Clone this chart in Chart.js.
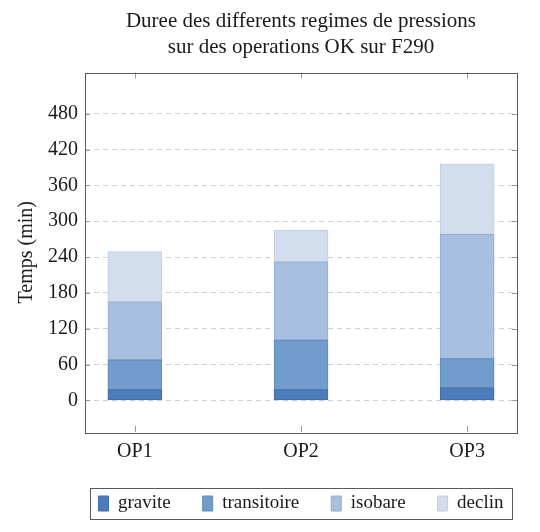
<!DOCTYPE html>
<html>
<head>
<meta charset="utf-8">
<script src="https://cdn.jsdelivr.net/npm/chart.js@4.4.1/dist/chart.umd.min.js"></script>
<style>
  html, body { margin: 0; padding: 0; background: #fff; }
  #wrap { width: 540px; height: 532px; }
</style>
</head>
<body>
<div id="wrap"><canvas id="barChart"></canvas></div>
<script>
// data
const categories = ['OP1', 'OP2', 'OP3'];
const gravite = [18, 18, 21];
const transitoire = [50, 83, 49];
const isobare = [97, 131, 208];
const declin = [84, 53, 118];
const yTicks = [0, 60, 120, 180, 240, 300, 360, 420, 480];

const toPoints = (values) => values.map((v, i) => ({ x: i + 1, y: v }));

Chart.defaults.font.family = "'Liberation Serif', 'Times New Roman', serif";
Chart.defaults.color = '#1a1a1a';

// frame round the plot area plus small inner tick marks (pgfplots style)
const framePlugin = {
  id: 'frame',
  afterLayout(chart) {
    // center the legend under the plot area, not the whole canvas
    const lg = chart.legend, a = chart.chartArea;
    if (!lg) return;
    const shift = (a.left + a.right) / 2 - (lg.left + lg.right) / 2;
    lg.left += shift;
    lg.right += shift;
  },
  afterDatasetsDraw(chart) {
    const { ctx, chartArea: a, scales } = chart;
    ctx.save();
    ctx.strokeStyle = '#9a9a9a';
    ctx.lineWidth = 1;
    ctx.beginPath();
    yTicks.forEach(v => {
      const y = Math.round(scales.y.getPixelForValue(v)) + 0.5;
      ctx.moveTo(a.left, y); ctx.lineTo(a.left + 5, y);
      ctx.moveTo(a.right, y); ctx.lineTo(a.right - 5, y);
    });
    categories.forEach((c, i) => {
      const x = Math.round(scales.x.getPixelForValue(i + 1)) + 0.5;
      ctx.moveTo(x, a.top); ctx.lineTo(x, a.top + 6);
      ctx.moveTo(x, a.bottom); ctx.lineTo(x, a.bottom - 6);
    });
    ctx.stroke();
    ctx.strokeStyle = '#5a5a5a';
    ctx.strokeRect(Math.round(a.left) + 0.5, Math.round(a.top) + 0.5,
      Math.round(a.right - a.left), Math.round(a.bottom - a.top));
    ctx.restore();
  },
  afterDraw(chart) {
    const lg = chart.legend;
    if (!lg || !lg.legendHitBoxes.length) return;
    const boxes = lg.legendHitBoxes;
    const a = chart.chartArea;
    const top = boxes[0].top - 6;
    const h = boxes[0].height + 12;
    const ctx = chart.ctx;
    ctx.save();
    ctx.strokeStyle = '#5a5a5a';
    ctx.lineWidth = 1;
    ctx.strokeRect(Math.round(a.left + 5) + 0.5, Math.round(top) + 0.5,
      Math.round(a.right - a.left - 10), Math.round(h));
    ctx.restore();
  }
};

const ctx = document.getElementById('barChart');
new Chart(ctx, {
  type: 'bar',
  data: {
    datasets: [
      { label: 'gravite', data: toPoints(gravite), backgroundColor: '#4d7cbc', borderColor: '#406ca8' },
      { label: 'transitoire', data: toPoints(transitoire), backgroundColor: '#729ccb', borderColor: '#6189b9' },
      { label: 'isobare', data: toPoints(isobare), backgroundColor: '#a7c0e0', borderColor: '#93add2' },
      { label: 'declin', data: toPoints(declin), backgroundColor: '#d2deed', borderColor: '#bfcde2' }
    ]
  },
  options: {
    responsive: true,
    maintainAspectRatio: false,
    animation: false,
    datasets: {
      bar: { barThickness: 54, borderWidth: 1, borderSkipped: false }
    },
    layout: { padding: { left: 0, right: 23, top: 0, bottom: 9 } },
    plugins: {
      title: {
        display: true,
        fullSize: false,
        text: ['Duree des differents regimes de pressions', 'sur des operations OK sur F290'],
        font: { size: 21, weight: 'normal', lineHeight: 1.25 },
        color: '#1a1a1a',
        padding: { top: 8, bottom: 12 }
      },
      legend: {
        position: 'bottom',
        labels: {
          boxWidth: 10,
          boxHeight: 15,
          padding: 32,
          font: { size: 19 },
          color: '#1a1a1a'
        }
      },
      tooltip: { enabled: false }
    },
    scales: {
      x: {
        type: 'linear',
        stacked: true,
        offset: false,
        min: 0.7,
        max: 3.3,
        grid: { display: false },
        border: { display: false },
        afterBuildTicks: (scale) => { scale.ticks = categories.map((c, i) => ({ value: i + 1 })); },
        afterFit: (scale) => { scale.height -= 2; },
        ticks: {
          font: { size: 20 },
          padding: 0,
          maxRotation: 0,
          callback: (v) => categories[v - 1]
        }
      },
      y: {
        stacked: true,
        min: -53,
        max: 549,
        afterBuildTicks: (scale) => { scale.ticks = yTicks.map(v => ({ value: v })); },
        afterFit: (scale) => { scale.width = 85; },
        grid: {
          color: '#d0d0d0',
          drawTicks: false
        },
        border: { display: false, dash: [5, 4] },
        ticks: { font: { size: 20 }, padding: 7 },
        title: {
          display: true,
          text: 'Temps (min)',
          font: { size: 20 },
          padding: { top: 15, bottom: 4 }
        }
      }
    }
  },
  plugins: [framePlugin]
});
</script>
</body>
</html>
